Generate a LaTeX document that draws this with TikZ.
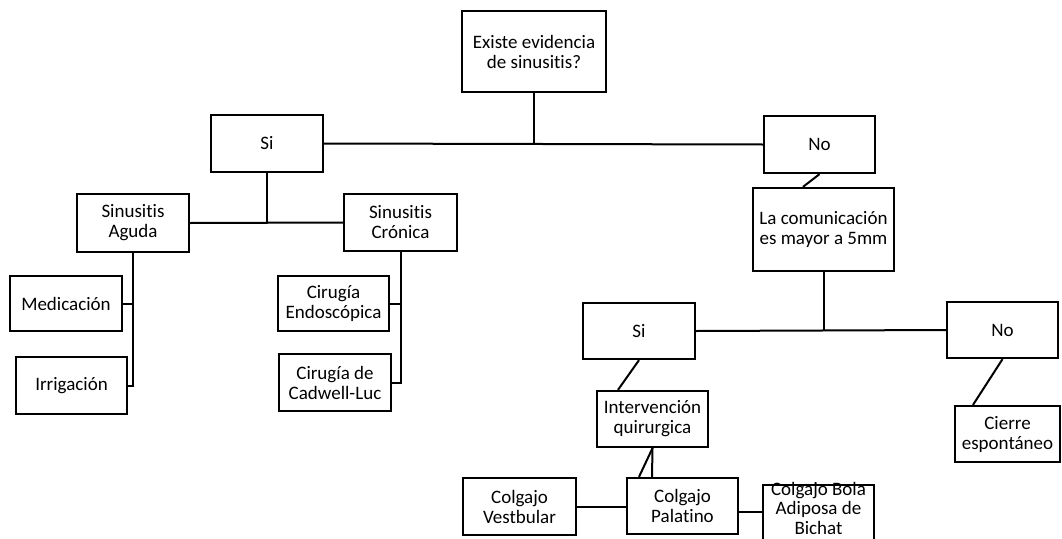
\documentclass[tikz,border=0pt]{standalone}
\usepackage{fontspec}
\setmainfont{Carlito}[Ligatures={NoCommon}]
\begin{document}
\begin{tikzpicture}[x=1pt,y=-1pt,
  box/.style={draw=black,line width=2.3pt,fill=white,inner sep=0pt,align=center,
    font=\fontsize{19}{20}\selectfont},
  conn/.style={draw=black,line width=2pt}]
\useasboundingbox (0,0) rectangle (1062,538);
\clip (0,0) rectangle (1062,538);
% nodes
\node[box,minimum width=144,minimum height=81] (top) at (534,51.5) {Existe evidencia\\de sinusitis?};
\node[box,minimum width=112,minimum height=57] (si) at (267,143.5) {Si};
\node[box,minimum width=111,minimum height=57] (no) at (819.5,144.5) {No};
\node[box,minimum width=112,minimum height=58] (aguda) at (133,223) {Sinusitis\\Aguda};
\node[box,minimum width=113,minimum height=57] (cronica) at (400.5,222.5) {Sinusitis\\Crónica};
\node[box,minimum width=112,minimum height=55] (medic) at (66,303.5) {Medicación};
\node[box,minimum width=111,minimum height=57] (irrig) at (71.5,385.5) {Irrigación};
\node[box,minimum width=111,minimum height=55] (endo) at (333.5,303.5) {Cirugía\\Endoscópica};
\node[box,minimum width=112,minimum height=57] (cadwell) at (335,382.5) {Cirugía de\\Cadwell-Luc};
\node[box,minimum width=141,minimum height=83] (comunic) at (823.5,229.5) {La comunicación\\es mayor a 5mm};
\node[box,minimum width=112,minimum height=56] (si2) at (639,331) {Si};
\node[box,minimum width=111,minimum height=56] (no2) at (1002.5,330) {No};
\node[box,minimum width=111,minimum height=56] (interv) at (652.5,419) {Intervención\\quirurgica};
\node[box,minimum width=105,minimum height=56] (cierre) at (1007.5,434) {Cierre\\espontáneo};
\node[box,minimum width=111,minimum height=56] (palatino) at (682.5,506) {Colgajo\\Palatino};
\node[box,minimum width=113,minimum height=57] (vestib) at (519.5,506.5) {Colgajo\\Vestbular};
\node[box,minimum width=111,anchor=north,inner ysep=-3pt,font=\fontsize{19}{19.5}\selectfont] (bola) at (818.5,484) {Colgajo Bola\\Adiposa de\\Bichat\\[4pt]};
% connectors
\draw[conn] (si.east) -- (no.west);
\draw[conn] (top.south) -- (top.south |- si.east);
\draw[conn] (aguda.east) -- (cronica.west);
\draw[conn] (si.south) -- (si.south |- aguda.east);
\draw[conn] (aguda.south) -- (aguda.south |- irrig.east) -- (irrig.east);
\draw[conn] (medic.east) -- (medic.east -| aguda.south);
\draw[conn] (cronica.south) -- (cronica.south |- cadwell.east) -- (cadwell.east);
\draw[conn] (endo.east) -- (endo.east -| cronica.south);
\draw[conn] (no.south) -- ([xshift=-20.5pt]comunic.north);
\draw[conn] (comunic.south) -- (comunic.south |- si2.east);
\draw[conn] (si2.east) -- (no2.west);
\draw[conn] (si2.south) -- ([xshift=-34.5pt]interv.north);
\draw[conn] (no2.south) -- ([xshift=-34.5pt]cierre.north);
\draw[conn] (interv.south) -- ([xshift=-30.5pt]palatino.north);
\draw[conn] (interv.south) -- ([xshift=-43.5pt]palatino.north);
\draw[conn] (vestib.east) -- (vestib.east -| palatino.west);
\draw[conn] ([yshift=-6pt]palatino.east) -- ([yshift=-6pt]palatino.east -| bola.west);
\end{tikzpicture}
\end{document}
